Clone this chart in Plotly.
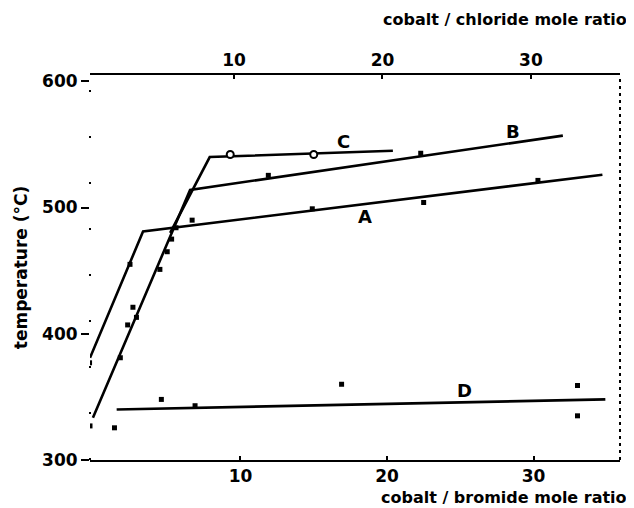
import plotly.graph_objects as go

# ---- data ----
A_line_x = [-0.27, 3.35, 34.7]
A_line_t = [381, 481, 526]
A_pts_x = [-0.3, 2.46, 6.7, 14.9, 22.5, 30.3]
A_pts_t = [377, 455, 490, 499, 504, 521.5]

B_line_x = [-0.07, 6.56, 32.0]
B_line_t = [333.5, 514, 557]
B_pts_x = [-0.27, 1.8, 2.3, 2.66, 2.9, 4.5, 5.0, 5.3, 5.6, 11.9, 22.3]
B_pts_t = [327, 381, 407, 421, 413, 451, 465, 475, 484, 525.5, 543]

C_line_x = [5.2, 7.9, 20.4]
C_line_t = [480, 540, 545]
C_pts_x = [9.3, 15.0]
C_pts_t = [542, 542]

D_line_x = [1.55, 34.9]
D_line_t = [340, 348]
D_pts_x = [1.4, 4.6, 6.9, 16.9, 33.0, 33.0]
D_pts_t = [325.5, 348, 343, 360, 359, 335]

curve_labels = ["A", "B", "C", "D"]
label_x = [18.5, 28.6, 17.0, 25.3]
label_t = [493, 560.5, 552.6, 355]

bottom_ticks = [10, 20, 30]
top_ticks = [10, 20, 30]
y_ticks = [300, 400, 500, 600]

FONT = "DejaVu Sans"
fig = go.Figure()

for lx, lt in [(A_line_x, A_line_t), (B_line_x, B_line_t), (C_line_x, C_line_t), (D_line_x, D_line_t)]:
    fig.add_trace(go.Scatter(x=lx, y=lt, mode="lines",
                             line=dict(color="black", width=2.6), showlegend=False, hoverinfo="skip"))

for px, pt in [(A_pts_x, A_pts_t), (B_pts_x, B_pts_t), (D_pts_x, D_pts_t)]:
    fig.add_trace(go.Scatter(x=px, y=pt, mode="markers",
                             marker=dict(color="black", size=5, symbol="square"),
                             showlegend=False, hoverinfo="skip"))

fig.add_trace(go.Scatter(x=C_pts_x, y=C_pts_t, mode="markers",
                         marker=dict(color="white", size=7, symbol="circle",
                                     line=dict(color="black", width=2)),
                         showlegend=False, hoverinfo="skip"))

# invisible trace to activate top axis
fig.add_trace(go.Scatter(x=[10], y=[300], xaxis="x2", mode="markers",
                         marker=dict(opacity=0), showlegend=False, hoverinfo="skip"))

for lab, lx, lt in zip(curve_labels, label_x, label_t):
    fig.add_annotation(x=lx, y=lt, text=lab, showarrow=False,
                       font=dict(family=FONT, size=18, color="black", weight="bold"))

tickfont = dict(size=17, family=FONT, weight="bold", color="black")
fig.update_layout(
    width=626, height=500,
    margin=dict(l=82, r=14, t=67, b=48),
    paper_bgcolor="white", plot_bgcolor="white",
    font=dict(family=FONT, color="black", weight="bold"),
    xaxis=dict(range=[-0.27, 35.9], tickvals=bottom_ticks, ticktext=[str(v) for v in bottom_ticks],
               showgrid=False, zeroline=False, showline=True, linecolor="black", linewidth=2,
               ticks="inside", ticklen=4, tickwidth=2, tickcolor="black", tickfont=tickfont),
    xaxis2=dict(range=[0.3, 36.0], overlaying="x", side="top", tickvals=top_ticks,
                ticktext=[str(v) for v in top_ticks],
                showgrid=False, zeroline=False, showline=True, linecolor="black", linewidth=2,
                ticks="inside", ticklen=4, tickwidth=2, tickcolor="black", tickfont=tickfont),
    yaxis=dict(range=[300, 605], tickvals=y_ticks, ticktext=[str(v) for v in y_ticks],
               showgrid=False, zeroline=False, showline=False,
               ticks="outside", ticklen=8, tickwidth=2, tickcolor="black", tickfont=tickfont,
               title=dict(text="temperature (°C)", standoff=10,
                          font=dict(size=17, family=FONT, weight="bold"))),
)

# dotted right border and sparse dotted left border
fig.add_shape(type="line", xref="paper", yref="paper", x0=1.0, x1=1.0, y0=0, y1=1,
              line=dict(color="black", width=2, dash="3px,4px"), layer="above")
fig.add_shape(type="line", xref="paper", yref="paper", x0=0.0, x1=0.0, y0=0, y1=1,
              line=dict(color="black", width=2, dash="2px,44px"), layer="above")

fig.add_annotation(xref="paper", yref="paper", x=1.017, y=-0.097, xanchor="right", yanchor="middle",
                   text="cobalt / bromide mole ratio", showarrow=False,
                   font=dict(size=16, family=FONT, weight="bold"))
fig.add_annotation(xref="paper", yref="paper", x=1.017, y=1.143, xanchor="right", yanchor="middle",
                   text="cobalt / chloride mole ratio", showarrow=False,
                   font=dict(size=16, family=FONT, weight="bold"))

fig.write_html("out.html")
